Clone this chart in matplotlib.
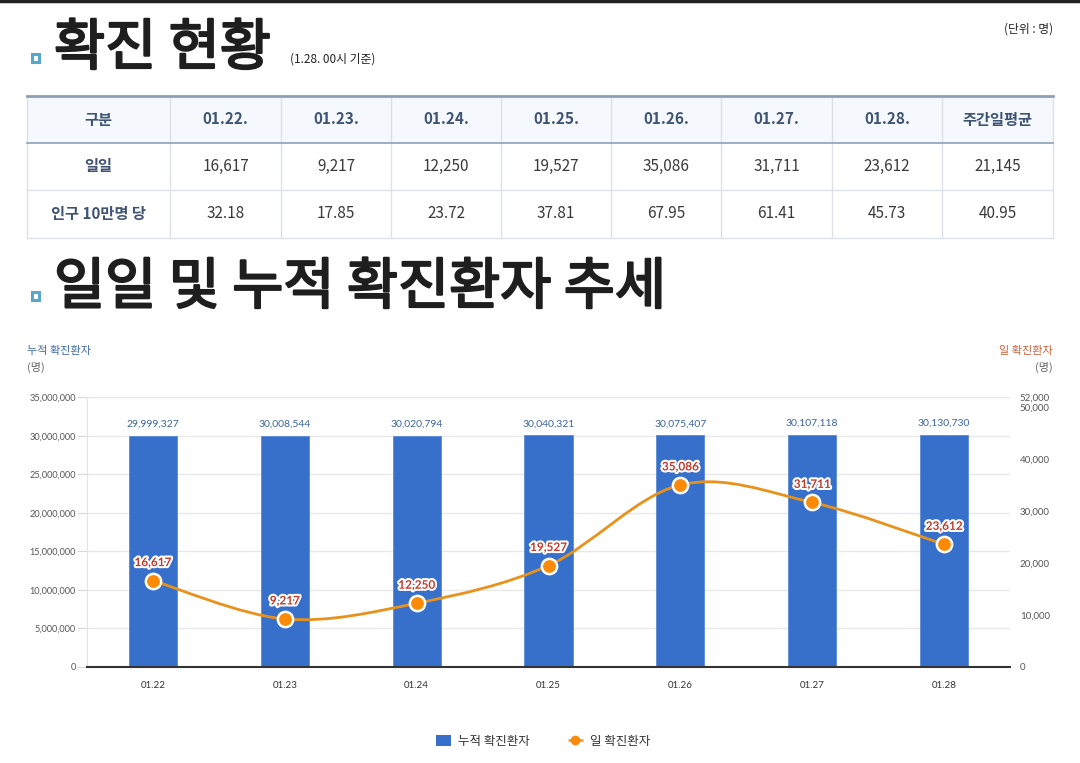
import numpy as np
import matplotlib
matplotlib.use('Agg')
import matplotlib.pyplot as plt
from matplotlib.path import Path
from matplotlib.patches import PathPatch, Rectangle, Patch
from matplotlib.lines import Line2D
import matplotlib.patheffects as pe

plt.rcParams['font.family'] = ['Noto Sans CJK KR', 'DejaVu Sans']

# ---- data ----
table_header = ['구분', '01.22.', '01.23.', '01.24.', '01.25.', '01.26.', '01.27.', '01.28.', '주간일평균']
daily_row = ['일일', '16,617', '9,217', '12,250', '19,527', '35,086', '31,711', '23,612', '21,145']
per100k_row = ['인구 10만명 당', '32.18', '17.85', '23.72', '37.81', '67.95', '61.41', '45.73', '40.95']

dates = ['01.22', '01.23', '01.24', '01.25', '01.26', '01.27', '01.28']
cumulative = [29999327, 30008544, 30020794, 30040321, 30075407, 30107118, 30130730]
daily = [16617, 9217, 12250, 19527, 35086, 31711, 23612]

left_ticks = [0, 5000000, 10000000, 15000000, 20000000, 25000000, 30000000, 35000000]
right_ticks = [0, 10000, 20000, 30000, 40000, 50000, 52000]

W, H = 1080, 763
fig = plt.figure(figsize=(W / 100, H / 100), dpi=100)

# overlay in pixel coordinates for headings and table
bg = fig.add_axes([0, 0, 1, 1])
bg.set_xlim(0, W)
bg.set_ylim(H, 0)
bg.axis('off')

bg.plot([0, W], [1, 1], color='#222222', lw=2.5)

def bullet(y):
    bg.add_patch(Rectangle((31, y), 10, 11, facecolor='#55a8c8', edgecolor='none'))
    bg.add_patch(Rectangle((34, y + 3), 4, 5, facecolor='white', edgecolor='none'))

# regular weight thickened a little, to sit between regular and bold
thick = [pe.withStroke(linewidth=1.6, foreground='#1e1e1e')]

bullet(53)
bg.text(54, 49, '확진 현황', fontsize=40, color='#1e1e1e', va='center', ha='left', path_effects=thick)
bg.text(290, 59, '(1.28. 00시 기준)', fontsize=8.5, color='#222222', va='center', ha='left')
bg.text(1053, 29, '(단위 : 명)', fontsize=8.5, color='#222222', va='center', ha='right')

# table
col_edges = [27, 170, 281, 391, 501, 611, 721, 832, 942, 1053]
row_edges = [96, 143, 190, 238]
bg.add_patch(Rectangle((27, 96), 1026, 47, facecolor='#f5f9fe', edgecolor='none'))
for x in col_edges:
    bg.plot([x, x], [96, 238], color='#dde1e6', lw=1)
bg.plot([27, 1053], [238, 238], color='#dde1e6', lw=1)
bg.plot([27, 1053], [190, 190], color='#dde1e6', lw=1)
bg.plot([27, 1053], [96, 96], color='#8d9fb8', lw=2)
bg.plot([27, 1053], [142.5, 142.5], color='#8d9fb8', lw=1.2)

rows = [table_header, daily_row, per100k_row]
for r, row in enumerate(rows):
    yc = (row_edges[r] + row_edges[r + 1]) / 2
    for c, val in enumerate(row):
        xc = (col_edges[c] + col_edges[c + 1]) / 2
        if r == 0 or c == 0:
            bg.text(xc, yc, val, fontsize=11, fontweight='bold', color='#3f5373', ha='center', va='center')
        else:
            bg.text(xc, yc, val, fontsize=11, color='#3a3a3a', ha='center', va='center')

bullet(291)
bg.text(54, 288, '일일 및 누적 확진환자 추세', fontsize=40, color='#1e1e1e', va='center', ha='left',
        path_effects=thick)

bg.text(27, 351, '누적 확진환자', fontsize=8, color='#3d6aa5', ha='left', va='center')
bg.text(27, 367, '(명)', fontsize=8, color='#666666', ha='left', va='center')
bg.text(1053, 351, '일 확진환자', fontsize=8, color='#c8603a', ha='right', va='center')
bg.text(1053, 367, '(명)', fontsize=8, color='#666666', ha='right', va='center')

# ---- chart ----
x0, x1 = 87, 1010
y0, y1 = 666.7, 397.3
ax = fig.add_axes([x0 / W, 1 - y0 / H, (x1 - x0) / W, (y0 - y1) / H])
ax2 = ax.twinx()

xs = np.arange(len(dates))
ax.bar(xs, cumulative, width=0.365, color='#3670cb', edgecolor='#5a8ad6', linewidth=0.6, zorder=2)
ax.set_xlim(-0.5, len(dates) - 0.5)
ax.set_ylim(0, 35000000)
ax.set_yticks(left_ticks)
ax.set_yticklabels([f'{v:,}' for v in left_ticks], fontfamily='Lato', fontsize=6.6, color='#555555')
ax.set_xticks(xs)
ax.set_xticklabels(dates, fontfamily='Lato', fontsize=7, color='#333333')
ax.tick_params(axis='x', length=0, pad=10)
ax.tick_params(axis='y', length=7, color='#d8d8d8', pad=1)
ax.grid(axis='y', color='#e8e8e8', lw=1, zorder=0)
ax.set_axisbelow(True)
for s in ['top', 'right']:
    ax.spines[s].set_visible(False)
ax.spines['left'].set_color('#e3e3e3')
ax.spines['bottom'].set_color('#333333')
ax.spines['bottom'].set_linewidth(1.5)
ax.spines['bottom'].set_zorder(5)

for xi, v in zip(xs, cumulative):
    ax.annotate(f'{v:,}', (xi, v), xytext=(0, 5), textcoords='offset points',
                ha='center', va='bottom', fontfamily='Lato', fontsize=7.5, color='#3a64a0')

ax2.set_ylim(0, 52000)
ax2.set_yticks(right_ticks)
ax2.set_yticklabels([f'{v:,}' if v else '0' for v in right_ticks], fontfamily='Lato', fontsize=7, color='#555555')
ax2.tick_params(axis='y', length=0, pad=7)
for s in ax2.spines.values():
    s.set_visible(False)

# smooth curve through the daily points (Catmull-Rom as cubic Bezier)
pts = np.column_stack([xs, daily]).astype(float)
ext = np.vstack([pts[0], pts, pts[-1]])
verts = [tuple(pts[0])]
codes = [Path.MOVETO]
for i in range(1, len(ext) - 2):
    p0, p1, p2, p3 = ext[i - 1], ext[i], ext[i + 1], ext[i + 2]
    c1 = p1 + (p2 - p0) / 6
    c2 = p2 - (p3 - p1) / 6
    verts += [tuple(c1), tuple(c2), tuple(p2)]
    codes += [Path.CURVE4] * 3
ax2.add_patch(PathPatch(Path(verts, codes), facecolor='none', edgecolor='#e8921c', lw=2, zorder=3))
ax2.plot(xs, daily, linestyle='none', marker='o', markersize=11, markerfacecolor='#fb8a06',
         markeredgecolor='white', markeredgewidth=1.8, zorder=4)
for xi, v in zip(xs, daily):
    ax2.annotate(f'{v:,}', (xi, v), xytext=(0, 9), textcoords='offset points',
                 ha='center', va='bottom', fontfamily='Lato', fontweight='bold', fontsize=8.5, color='#c0392b',
                 path_effects=[pe.withStroke(linewidth=3, foreground='white')], zorder=5)

handles = [Patch(facecolor='#3670cb', edgecolor='none'),
           Line2D([0], [0], color='#f5a030', lw=2, linestyle='--', dashes=(2, 1.5), marker='o', markersize=6,
                  markerfacecolor='#fb8a06', markeredgecolor='#fb8a06')]
fig.legend(handles, ['누적 확진환자', '일 확진환자'], loc='center', bbox_to_anchor=(543 / W, 1 - 741 / H),
           ncol=2, frameon=False, fontsize=9, handlelength=1.2, handleheight=1.0, columnspacing=3.0,
           handletextpad=0.6, labelcolor='#333333')

fig.savefig('out.png', dpi=100)
